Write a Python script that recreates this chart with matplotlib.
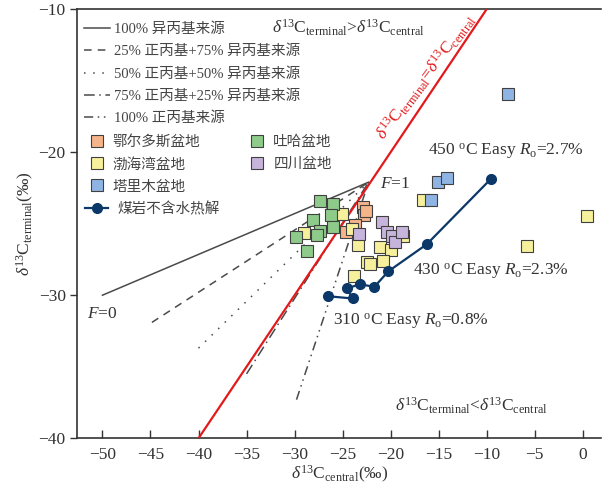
import matplotlib
matplotlib.use('Agg')
import matplotlib.pyplot as plt
from matplotlib.lines import Line2D
import numpy as np

plt.rcParams['font.family'] = ['Liberation Serif', 'Noto Sans CJK SC']
plt.rcParams['mathtext.fontset'] = 'custom'
plt.rcParams['mathtext.rm'] = 'Liberation Serif'
plt.rcParams['mathtext.it'] = 'Liberation Serif:italic'
plt.rcParams['axes.unicode_minus'] = True

TXT = '#333333'

# ---- data ----
# basin samples (central, terminal)
ordos_x = [-22.9, -22.8, -23.7, -24.7, -22.6]
ordos_y = [-23.8, -24.4, -25.1, -25.6, -24.1]

tuha_x = [-27.35, -25.96, -26.2, -28.04, -27.35, -25.96, -27.63, -29.85, -28.73]
tuha_y = [-23.42, -23.65, -24.42, -24.72, -25.51, -25.23, -25.81, -25.93, -26.91]

bohai_x = [-25.09, -29.01, -24.05, -23.36, -22.49, -22.14, -23.78, -21.1, -19.96,
           -20.82, -18.68, -16.59, 0.48, -5.83]
bohai_y = [-24.3, -25.65, -25.35, -26.51, -27.68, -27.84, -28.65, -26.63, -26.86,
           -27.63, -25.86, -23.32, -24.48, -26.56]

sichuan_x = [-20.92, -20.4, -19.85, -19.54, -18.84, -23.29]
sichuan_y = [-24.88, -25.58, -25.88, -26.28, -25.58, -25.69]

tarim_x = [-7.75, -15.03, -14.1, -15.82]
tarim_y = [-15.97, -22.09, -21.81, -23.37]

# anhydrous pyrolysis of coal
pyro_x = [-26.55, -23.94, -24.57, -23.18, -21.7, -20.24, -16.24, -9.55]
pyro_y = [-30.07, -30.23, -29.53, -29.23, -29.42, -28.33, -26.44, -21.86]

# mixing lines: F=0 end members, common F=1 end
mix_labels = ['100% 异丙基来源', '25% 正丙基+75% 异丙基来源', '50% 正丙基+50% 异丙基来源',
              '75% 正丙基+25% 异丙基来源', '100% 正丙基来源']
mix_f0_x = [-50.0, -44.85, -40.0, -35.0, -29.8]
mix_f0_y = [-30.0, -31.9, -33.7, -35.5, -37.3]
f1_x, f1_y = -22.3, -22.1
mix_styles = ['-', (0, (5, 4)), (0, (1, 5)), (0, (7, 3, 1, 3)), (0, (6, 3, 1, 3, 1, 3))]

one_to_one = [-40, -8]

fig = plt.figure(figsize=(6.02, 4.93), dpi=100)
ax = fig.add_axes([0.1287, 0.111, 0.8697, 0.8706])

mix_handles = []
for xs, ys, ls, lab in zip(mix_f0_x, mix_f0_y, mix_styles, mix_labels):
    ax.plot([xs, f1_x], [ys, f1_y], color='#4a4a4a', lw=1.1, linestyle=ls, zorder=2)
    mix_handles.append(Line2D([], [], color='#4a4a4a', lw=1.1, linestyle=ls, label=lab))

ax.plot(one_to_one, one_to_one, color='#e31a1c', lw=1.6, zorder=3)

sq = dict(marker='s', linestyle='none', markersize=8.5, markeredgewidth=0.8,
          markeredgecolor='#404040', zorder=4)
groups = [
    ('鄂尔多斯盆地', ordos_x, ordos_y, '#f5b48a'),
    ('渤海湾盆地', bohai_x, bohai_y, '#f6f09c'),
    ('塔里木盆地', tarim_x, tarim_y, '#8fb4e3'),
    ('吐哈盆地', tuha_x, tuha_y, '#8ecb8b'),
    ('四川盆地', sichuan_x, sichuan_y, '#c7b4dc'),
]
basin_handles = []
for lab, xs, ys, col in groups:
    h, = ax.plot(xs, ys, color=col, label=lab, **sq)
    basin_handles.append(h)

pyro_h, = ax.plot(pyro_x, pyro_y, color='#0b3868', lw=1.6, marker='o', markersize=7,
                  label='煤岩不含水热解', zorder=5)

# annotations
fs = 12.5
ax.text(-16.1, -20.0, '450 $^{\\mathrm{o}}$C Easy $R_{\\mathrm{o}}$=2.7%', fontsize=fs, color=TXT, va='center')
ax.text(-17.7, -28.4, '430 $^{\\mathrm{o}}$C Easy $R_{\\mathrm{o}}$=2.3%', fontsize=fs, color=TXT, va='center')
ax.text(-26.0, -31.9, '310 $^{\\mathrm{o}}$C Easy $R_{\\mathrm{o}}$=0.8%', fontsize=fs, color=TXT, va='center')
ax.text(-21.1, -22.2, '$F$=1', fontsize=fs, color=TXT, va='center')
ax.text(-51.6, -31.3, '$F$=0', fontsize=fs, color=TXT, va='center')
ax.text(-32.3, -11.3, '$\\delta^{13}$C$_{\\mathrm{terminal}}$>$\\delta^{13}$C$_{\\mathrm{central}}$',
        fontsize=fs, color=TXT, va='center')
ax.text(-19.5, -37.7, '$\\delta^{13}$C$_{\\mathrm{terminal}}$<$\\delta^{13}$C$_{\\mathrm{central}}$',
        fontsize=fs, color=TXT, va='center')
ax.text(-16.3, -14.75, '$\\delta^{13}$C$_{\\mathrm{terminal}}$=$\\delta^{13}$C$_{\\mathrm{central}}$',
        fontsize=12.5, color='#e31a1c', va='center', ha='center', rotation=53,
        rotation_mode='anchor')

ax.set_xlim(-52.6, 1.9)
ax.set_ylim(-40, -10)
ax.set_xticks(np.arange(-50, 1, 5))
ax.set_yticks([-40, -30, -20, -10])
ax.tick_params(axis='x', direction='in', length=6, width=1, labelsize=12.5, colors=TXT, pad=6)
ax.tick_params(axis='y', direction='out', length=5, width=1, labelsize=12.5, colors=TXT)
for s in ['left', 'bottom', 'top']:
    ax.spines[s].set_color('#333333')
    ax.spines[s].set_linewidth(1.2)
ax.spines['right'].set_visible(False)

ax.set_xlabel('$\\delta^{13}$C$_{\\mathrm{central}}$(‰)', fontsize=12.5, color=TXT, labelpad=1)
ax.set_ylabel('$\\delta^{13}$C$_{\\mathrm{terminal}}$(‰)', fontsize=12.5, color=TXT, labelpad=2)

lg_kw = dict(frameon=False, fontsize=10.5, labelcolor='#444444', borderaxespad=0,
             borderpad=0)
leg1 = ax.legend(handles=mix_handles, loc='upper left', bbox_to_anchor=(0.012, 0.969),
                 handlelength=1.8, handletextpad=0.3, labelspacing=0.6, **lg_kw)
ax.add_artist(leg1)
leg2 = ax.legend(handles=basin_handles, loc='upper left', bbox_to_anchor=(0.0197, 0.706),
                 ncol=2, handlelength=1.2, handletextpad=0.5, labelspacing=0.6,
                 columnspacing=3.3, **lg_kw)
ax.add_artist(leg2)
ax.legend(handles=[pyro_h], loc='upper left', bbox_to_anchor=(0.0143, 0.551),
          handlelength=1.6, handletextpad=0.6, **lg_kw)

fig.savefig('out.png', dpi=100)
